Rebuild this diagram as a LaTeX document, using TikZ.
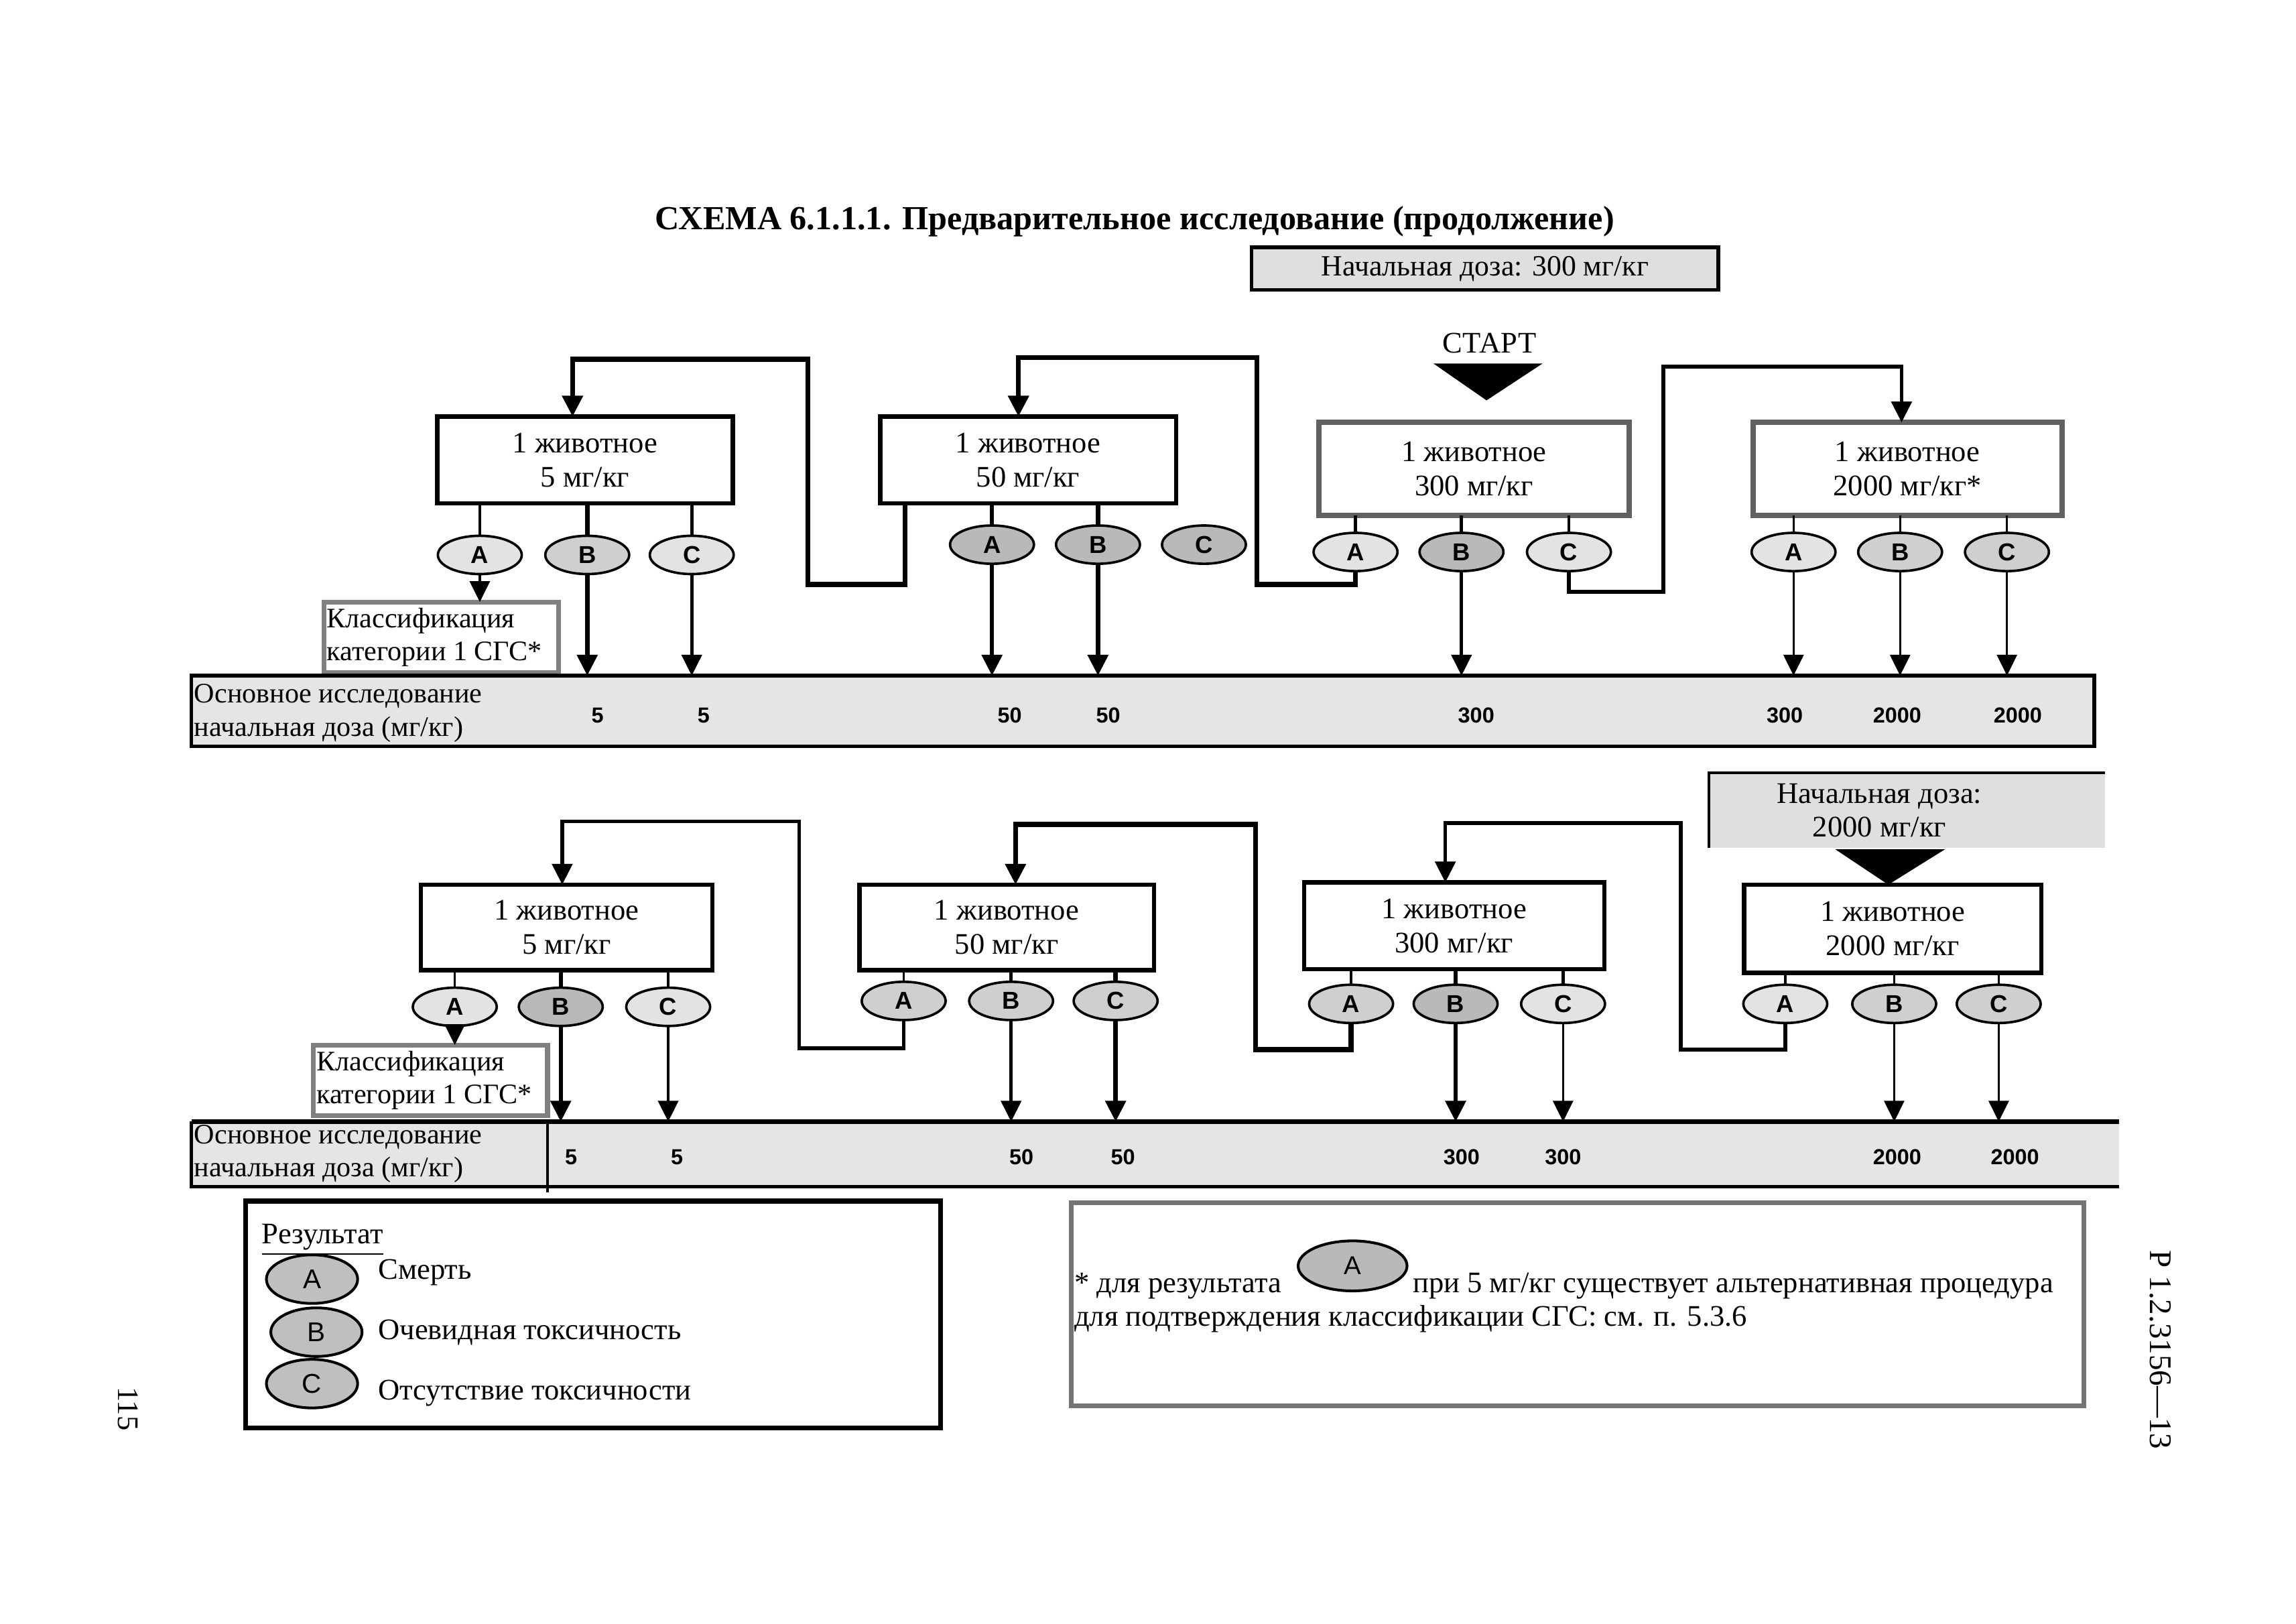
\documentclass[tikz,border=0pt]{standalone}
\usepackage{fontspec}
\setmainfont{Liberation Serif}
\setsansfont{Liberation Sans}
\usetikzlibrary{arrows.meta,calc,shapes.geometric}
\def\u{0.019038cm}
\begin{document}
\begin{tikzpicture}[x=0.019038cm,y=-0.019038cm,
  every node/.style={inner sep=0pt,outer sep=0pt},
  txt/.style={font=\fontsize{11}{12.5}\selectfont},
  stxt/.style={font=\fontsize{10.4}{12.2}\selectfont},
  wh/.style 2 args={minimum width=#1*\u,minimum height=#2*\u},
  abox/.style={draw,line width=1.6pt,fill=white,align=center,txt},
  gbox/.style={draw=black!62,line width=2pt,fill=white,align=center,txt},
  clbox/.style={draw=black!50,line width=1.8pt,fill=white},
  res/.style={ellipse,draw,line width=0.9pt,minimum width=57*\u,minimum height=26*\u,
     font=\sffamily\bfseries\fontsize{9}{10}\selectfont},
  lf/.style={fill=gray!22},
  mf/.style={fill=gray!38},
  df/.style={fill=gray!55},
  num/.style={font=\sffamily\bfseries\fontsize{8}{9}\selectfont},
  thn/.style={line width=0.8pt},
  med/.style={line width=1.15pt},
  thk/.style={line width=1.6pt},
  arr/.style={-{Triangle[width=0.26cm,length=0.27cm]}},
  lp/.style={line width=1.8pt,-{Triangle[width=0.26cm,length=0.27cm]}}
]
\useasboundingbox (0,0) rectangle (1560,1103);
\fill[white] (0,0) rectangle (1560,1103);

% title
\node[font=\bfseries\fontsize{12.4}{14}\selectfont] (title) at (771,150.6)
  {СХЕМА 6.1.1.1. Предварительное исследование (продолжение)};

% ---------------- TOP ROW ----------------
\node[draw,line width=1.3pt,fill=gray!25,wh={317}{29},font=\fontsize{10.8}{12.5}\selectfont] (sd1) at (1009,182.5)
  {Начальная доза: 300 мг/кг};
\node[txt] (start) at (1012,233) {СТАРТ};
\fill (974,247) -- (1048,247) -- (1010,272) -- cycle;

\node[abox,wh={201}{59}] (T1) at (397.5,312.5) {1 животное\\5 мг/кг};
\node[abox,wh={201}{59}] (T2) at (698.5,312.5) {1 животное\\50 мг/кг};
\node[gbox,wh={211}{63}] (T3) at (1001.5,318.5) {1 животное\\300 мг/кг};
\node[gbox,wh={210}{63}] (T4) at (1296,318.5) {1 животное\\2000 мг/кг*};

\node[res,lf] (T1A) at (326,377) {A};
\node[res,mf] (T1B) at (399,377) {B};
\node[res,lf] (T1C) at (470,377) {C};
\node[res,df] (T2A) at (674,370) {A};
\node[res,df] (T2B) at (746,370) {B};
\node[res,df] (T2C) at (818,370) {C};
\node[res,lf] (T3A) at (921,375) {A};
\node[res,df] (T3B) at (993,375) {B};
\node[res,lf] (T3C) at (1066,375) {C};
\node[res,lf] (T4A) at (1218.6,375) {A};
\node[res,mf] (T4B) at (1291,375) {B};
\node[res,mf] (T4C) at (1363.6,375) {C};

\node[clbox,wh={159.5}{48}] (cl1) at (299.75,433) {};
\node[stxt,anchor=west,align=left] (cl1t) at ($(cl1.west)+(2,0)$) {Классификация\\категории 1 СГС*};

\node[draw,line width=1.4pt,fill=gray!20,wh={1293}{48}] (bar1) at (776.5,483) {};
\node[stxt,anchor=west,align=left] (bar1t) at (132,484.5) {Основное исследование\\начальная доза (мг/кг)};
\node[num] (n1) at (406,486) {5};
\node[num] (n2) at (478,486) {5};
\node[num] (n3) at (686,486) {50};
\node[num] (n4) at (753,486) {50};
\node[num] (n5) at (1003,486) {300};
\node[num] (n6) at (1212.6,486) {300};
\node[num] (n7) at (1289,486) {2000};
\node[num] (n8) at (1371,486) {2000};

% box -> ellipse lines
\draw[thn] (T1A.north |- T1.south) -- (T1A.north);
\draw[thk] (T1B.north |- T1.south) -- (T1B.north);
\draw[med] (T1C.north |- T1.south) -- (T1C.north);
\draw[thk] (T2A.north |- T2.south) -- (T2A.north);
\draw[thk] (T2B.north |- T2.south) -- (T2B.north);
\draw[med] (T3A.north |- T3.south) -- (T3A.north);
\draw[med] (T3B.north |- T3.south) -- (T3B.north);
\draw[med] (T3C.north |- T3.south) -- (T3C.north);
\draw[thn] (T4A.north |- T4.south) -- (T4A.north);
\draw[thn] (T4B.north |- T4.south) -- (T4B.north);
\draw[thn] (T4C.north |- T4.south) -- (T4C.north);

% ellipse -> bar arrows
\draw[thn,arr] (T1A.south) -- (T1A.south |- cl1.north);
\draw[thk,arr] (T1B.south) -- (T1B.south |- bar1.north);
\draw[med,arr] (T1C.south) -- (T1C.south |- bar1.north);
\draw[thk,arr] (T2A.south) -- (T2A.south |- bar1.north);
\draw[thk,arr] (T2B.south) -- (T2B.south |- bar1.north);
\draw[med,arr] (T3B.south) -- (T3B.south |- bar1.north);
\draw[thn,arr] (T4A.south) -- (T4A.south |- bar1.north);
\draw[thn,arr] (T4B.south) -- (T4B.south |- bar1.north);
\draw[thn,arr] (T4C.south) -- (T4C.south |- bar1.north);

% loops
\coordinate (k1) at (389,244);
\coordinate (k2) at (692,243);
\coordinate (k3) at (1292,249);
\draw[lp] ($(T2.south west)+(17,0)$) |- (549,397) |- (k1) -- (k1 |- T1.north);
\draw[lp] (T3A.south) |- (854,397) |- (k2) -- (k2 |- T2.north);
\draw[lp,line width=1.4pt] (T3C.south) |- (1130,402) |- (k3) -- (k3 |- T4.north);

% ---------------- BOTTOM ROW ----------------
\node[fill=gray!25,wh={269}{51}] (sd2) at (1295.5,550.5) {};
\node[txt,align=center] (sd2t) at (1277,550.5) {Начальная доза:\\2000 мг/кг};
\draw[line width=1pt] (sd2.south west) -- (sd2.north west) -- (sd2.north east);
\fill (1247,577) -- (1321.5,577) -- (1283,601) -- cycle;

\node[abox,wh={198}{58}] (B1) at (385,630) {1 животное\\5 мг/кг};
\node[abox,wh={200}{58}] (B2) at (684,630) {1 животное\\50 мг/кг};
\node[abox,wh={204}{59}] (B3) at (988,629) {1 животное\\300 мг/кг};
\node[abox,wh={202}{60}] (B4) at (1286,631) {1 животное\\2000 мг/кг};

\node[res,lf] (B1A) at (309,684) {A};
\node[res,df] (B1B) at (381,684) {B};
\node[res,lf] (B1C) at (454,684) {C};
\node[res,mf] (B2A) at (614,680) {A};
\node[res,mf] (B2B) at (687,680) {B};
\node[res,mf] (B2C) at (758,680) {C};
\node[res,mf] (B3A) at (918,682) {A};
\node[res,df] (B3B) at (989,682) {B};
\node[res,lf] (B3C) at (1062,682) {C};
\node[res,lf] (B4A) at (1213,682) {A};
\node[res,mf] (B4B) at (1287,682) {B};
\node[res,mf] (B4C) at (1358,682) {C};

\node[clbox,wh={159}{48}] (cl2) at (292.5,734) {};
\node[stxt,anchor=west,align=left] (cl2t) at ($(cl2.west)+(2,0)$) {Классификация\\категории 1 СГС*};

\node[fill=gray!20,wh={1310}{44}] (bar2) at (785,784) {};
\draw[line width=1.6pt] (bar2.north west) -- (bar2.north east);
\draw[line width=1.2pt] (bar2.north west) -- (bar2.south west) -- (bar2.south east);
\draw[line width=1.2pt] (372,762) -- (372,810);
\node[stxt,anchor=west,align=left] (bar2t) at (132,784) {Основное исследование\\начальная доза (мг/кг)};
\node[num] (m1) at (388,786) {5};
\node[num] (m2) at (460,786) {5};
\node[num] (m3) at (694,786) {50};
\node[num] (m4) at (763,786) {50};
\node[num] (m5) at (993,786) {300};
\node[num] (m6) at (1062,786) {300};
\node[num] (m7) at (1289,786) {2000};
\node[num] (m8) at (1369,786) {2000};

\draw[thn] (B1A.north |- B1.south) -- (B1A.north);
\draw[thk] (B1B.north |- B1.south) -- (B1B.north);
\draw[med] (B1C.north |- B1.south) -- (B1C.north);
\draw[thn] (B2A.north |- B2.south) -- (B2A.north);
\draw[med] (B2B.north |- B2.south) -- (B2B.north);
\draw[thk] (B2C.north |- B2.south) -- (B2C.north);
\draw[med] (B3A.north |- B3.south) -- (B3A.north);
\draw[thk] (B3B.north |- B3.south) -- (B3B.north);
\draw[med] (B3C.north |- B3.south) -- (B3C.north);
\draw[thn] (B4A.north |- B4.south) -- (B4A.north);
\draw[thn] (B4B.north |- B4.south) -- (B4B.north);
\draw[thn] (B4C.north |- B4.south) -- (B4C.north);

\draw[thn,arr] (B1A.south) -- (B1A.south |- cl2.north);
\draw[thk,arr] (B1B.south) -- (B1B.south |- bar2.north);
\draw[med,arr] (B1C.south) -- (B1C.south |- bar2.north);
\draw[med,arr] (B2B.south) -- (B2B.south |- bar2.north);
\draw[thk,arr] (B2C.south) -- (B2C.south |- bar2.north);
\draw[thk,arr] (B3B.south) -- (B3B.south |- bar2.north);
\draw[thn,arr] (B3C.south) -- (B3C.south |- bar2.north);
\draw[thn,arr] (B4B.south) -- (B4B.south |- bar2.north);
\draw[thn,arr] (B4C.south) -- (B4C.south |- bar2.north);

\coordinate (k4) at (382,558);
\coordinate (k5) at (690,560);
\coordinate (k6) at (982,559);
\draw[lp,line width=1.4pt] (B2A.south) |- (543,712) |- (k4) -- (k4 |- B1.north);
\draw[lp] (B3A.south) |- (853,713) |- (k5) -- (k5 |- B2.north);
\draw[lp,line width=1.4pt] (B4A.south) |- (1142,713) |- (k6) -- (k6 |- B3.north);

% ---------------- LEGEND ----------------
\node[draw,line width=1.8pt,wh={472}{154}] (leg) at (403,893) {};
\node[txt,anchor=base west] (legt) at (178,845) {\underline{Результат}};
\node[ellipse,draw,line width=1pt,fill=gray!50,wh={62}{33},font=\sffamily\fontsize{10}{11}\selectfont] (LA) at (212,869) {A};
\node[ellipse,draw,line width=1pt,fill=gray!50,wh={62}{33},font=\sffamily\fontsize{10}{11}\selectfont] (LB) at (215,905) {B};
\node[ellipse,draw,line width=1pt,fill=gray!50,wh={62}{33},font=\sffamily\fontsize{10}{11}\selectfont] (LC) at (212,940) {C};
\node[txt,anchor=base west] (LAt) at (257,869) {Смерть};
\node[txt,anchor=base west] (LBt) at (257,910) {Очевидная токсичность};
\node[txt,anchor=base west] (LCt) at (257,951) {Отсутствие токсичности};

% ---------------- NOTE ----------------
\node[draw=black!55,line width=1.8pt,wh={688}{138}] (note) at (1072,886) {};
\node[txt,anchor=base west] (nt1) at (730,878) {* для результата};
\node[ellipse,draw,line width=1pt,fill=gray!55,wh={74}{34},font=\sffamily\fontsize{9.5}{11}\selectfont] (NA) at (919,860) {A};
\node[txt,anchor=base west] (nt2) at (960,878) {при 5 мг/кг существует альтернативная процедура};
\node[txt,anchor=base west] (nt3) at (730,901) {для подтверждения классификации СГС: см. п. 5.3.6};

% side texts
\node[font=\fontsize{11.6}{13}\selectfont,rotate=-90] (hdr) at (1468,917) {Р 1.2.3156—13};
\node[txt,rotate=-90] (pg) at (87,957) {115};
\end{tikzpicture}
\end{document}
